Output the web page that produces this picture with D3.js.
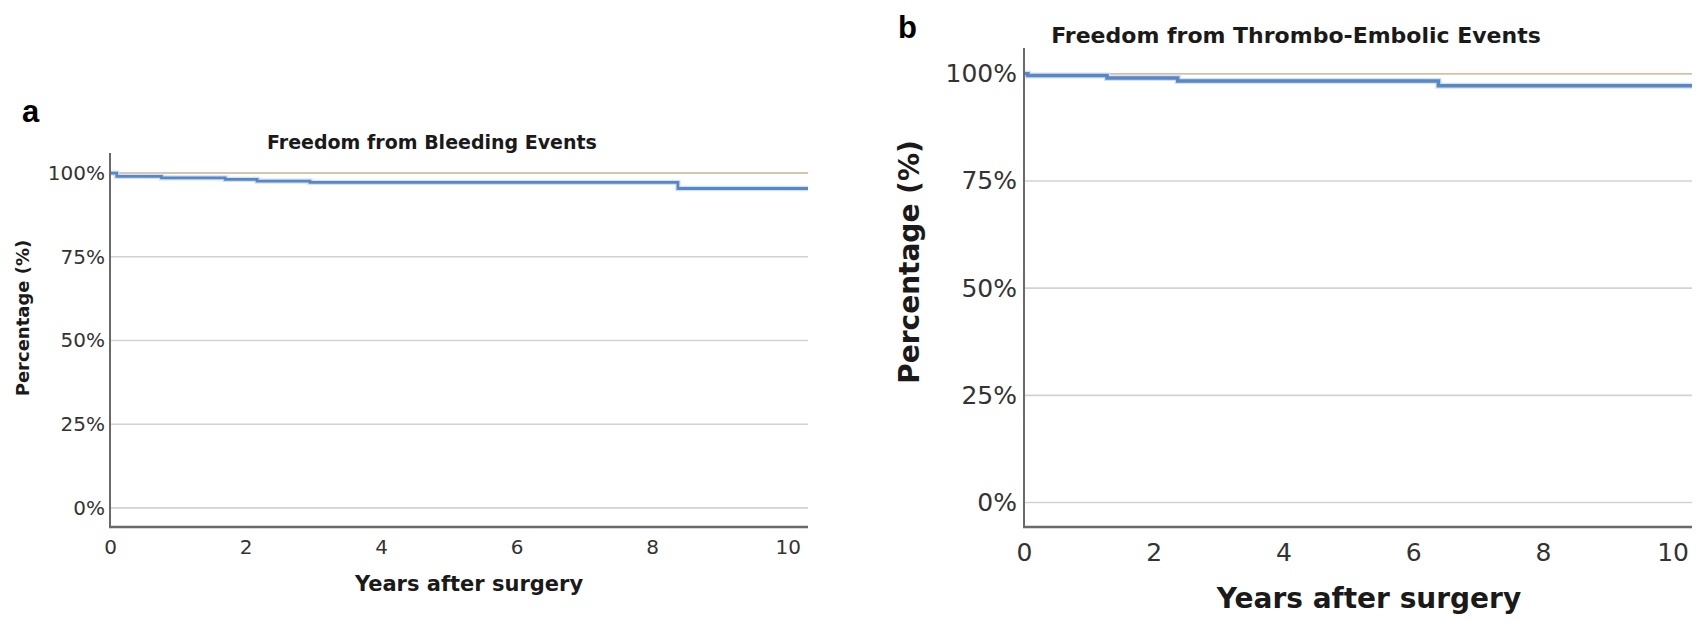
<!DOCTYPE html>
<html>
<head>
<meta charset="utf-8">
<script src="https://cdn.jsdelivr.net/npm/d3@7"></script>
<style>
  html, body { margin: 0; padding: 0; background: #fff; }
  svg { display: block; }
  text { font-family: "DejaVu Sans", sans-serif; }
</style>
</head>
<body>
<svg id="chart" width="1707" height="621"></svg>
<script>
// tick values shared by both panels
var yearTicks = [0, 2, 4, 6, 8, 10];
var pctTicks = [0, 25, 50, 75, 100];
var followUpEnd = 10.3;

// panel a: freedom from bleeding (step times in years, survival in %)
var bleedTimes = [0, 0.1, 0.76, 1.7, 2.17, 2.95, 8.38];
var bleedSurv = [100, 99.0, 98.6, 98.1, 97.6, 97.2, 95.4];

// panel b: freedom from thrombo-embolic events
var teTimes = [0, 0.06, 1.28, 2.37, 6.39];
var teSurv = [100, 99.6, 99.0, 98.3, 97.2];

// the flat reference curve at 100%
var refTimes = [0, followUpEnd];
var refSurv = [100, 100];

var svg = d3.select("#chart");

function toPoints(times, surv) {
    var pts = times.map(function(t, i) { return [t, surv[i]]; });
    // carry the last level on to the end of follow-up
    pts.push([followUpEnd, surv[surv.length - 1]]);
    return pts;
}

function drawPanel(opt) {
    var g = svg.append("g");
    var x = d3.scaleLinear().domain([0, followUpEnd]).range([opt.left, opt.right]);
    var y = d3.scaleLinear().domain([-5.7, 106]).range([opt.bottom, opt.top]);

    // horizontal gridlines
    g.selectAll(".grid").data(pctTicks).enter().append("line")
        .attr("x1", opt.left).attr("x2", opt.right)
        .attr("y1", function(d) { return y(d); })
        .attr("y2", function(d) { return y(d); })
        .attr("stroke", "#d2d2d2").attr("stroke-width", 1.6);

    // y axis labels
    var yAxis = d3.axisLeft(y).tickValues(pctTicks)
        .tickFormat(function(d) { return d + "%"; })
        .tickSize(0).tickPadding(opt.tickPad);
    var ya = g.append("g").attr("transform", "translate(" + opt.left + ",0)").call(yAxis);
    ya.select(".domain").remove();
    ya.selectAll("text").attr("font-size", opt.tickSize).attr("fill", "#333")
        .style("font-family", "DejaVu Sans, sans-serif");

    // x axis labels
    var xAxis = d3.axisBottom(x).tickValues(yearTicks).tickSize(0).tickPadding(opt.xTickPad);
    var xa = g.append("g").attr("transform", "translate(0," + opt.bottom + ")").call(xAxis);
    xa.select(".domain").remove();
    xa.selectAll("text").attr("font-size", opt.tickSize).attr("fill", "#333")
        .style("font-family", "DejaVu Sans, sans-serif");

    // curves
    var line = d3.line()
        .x(function(d) { return x(d[0]); })
        .y(function(d) { return y(d[1]); })
        .curve(d3.curveStepAfter);

    g.append("path").datum([[refTimes[0], refSurv[0]], [refTimes[1], refSurv[1]]])
        .attr("d", line).attr("fill", "none")
        .attr("stroke", "#d8bca2").attr("stroke-width", 1.5);

    g.append("path").datum(toPoints(opt.times, opt.surv))
        .attr("d", line).attr("fill", "none")
        .attr("stroke", "#cfe2f6").attr("stroke-width", opt.lineWidth + 2.5);
    g.append("path").datum(toPoints(opt.times, opt.surv))
        .attr("d", line).attr("fill", "none")
        .attr("stroke", "#5b86c4").attr("stroke-width", opt.lineWidth);

    // axis frame (left and bottom)
    g.append("line").attr("x1", opt.left).attr("x2", opt.left)
        .attr("y1", opt.top).attr("y2", opt.bottom)
        .attr("stroke", "#6a6a6a").attr("stroke-width", 2);
    g.append("line").attr("x1", opt.left - 1).attr("x2", opt.right)
        .attr("y1", opt.bottom).attr("y2", opt.bottom)
        .attr("stroke", "#6a6a6a").attr("stroke-width", 2.4);

    // titles
    g.append("text").attr("x", opt.titleX).attr("y", opt.titleY)
        .attr("text-anchor", "middle").attr("font-weight", "bold")
        .attr("font-size", opt.titleSize).attr("fill", "#1a1a1a")
        .text(opt.title);
    g.append("text").attr("x", opt.xLabelX).attr("y", opt.xLabelY)
        .attr("text-anchor", "middle").attr("font-weight", "bold")
        .attr("font-size", opt.xLabelSize).attr("fill", "#1a1a1a")
        .text("Years after surgery");
    g.append("text")
        .attr("transform", "translate(" + opt.yLabelX + "," + opt.yLabelY + ") rotate(-90)")
        .attr("text-anchor", "middle").attr("font-weight", "bold")
        .attr("font-size", opt.yLabelSize).attr("fill", "#1a1a1a")
        .text("Percentage (%)");

    // panel letter
    g.append("text").attr("x", opt.letterX).attr("y", opt.letterY)
        .attr("font-weight", "bold").attr("font-size", opt.letterSize)
        .style("font-family", "Liberation Sans, Arial, sans-serif")
        .attr("fill", "#000").text(opt.letter);
}

drawPanel({
    left: 110, right: 808, top: 153, bottom: 527,
    times: bleedTimes, surv: bleedSurv, lineWidth: 2.8,
    tickSize: 20, tickPad: 5, xTickPad: 13,
    title: "Freedom from Bleeding Events", titleX: 432, titleY: 149, titleSize: 19,
    xLabelSize: 21, yLabelSize: 18,
    xLabelX: 469, xLabelY: 591, yLabelX: 29, yLabelY: 318,
    letter: "a", letterX: 22, letterY: 122, letterSize: 31
});

drawPanel({
    left: 1024, right: 1692, top: 48, bottom: 527,
    times: teTimes, surv: teSurv, lineWidth: 3.6,
    tickSize: 25, tickPad: 7, xTickPad: 16,
    title: "Freedom from Thrombo-Embolic Events", titleX: 1296, titleY: 43, titleSize: 22,
    xLabelSize: 28, yLabelSize: 28,
    xLabelX: 1369, xLabelY: 608, yLabelX: 919, yLabelY: 262,
    letter: "b", letterX: 898, letterY: 38, letterSize: 31
});
</script>
</body>
</html>
